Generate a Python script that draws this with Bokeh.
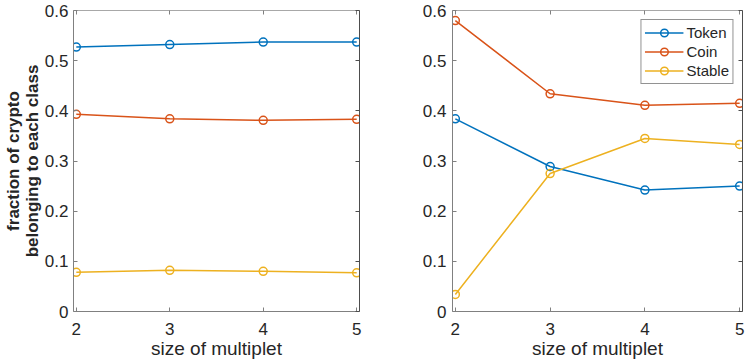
from bokeh.plotting import figure
from bokeh.layouts import row
from bokeh.models import Range1d, FixedTicker, LinearAxis, CustomJSTickFormatter, Legend
from bokeh.embed import file_html
from bokeh.resources import INLINE

# ---- data ----
multiplet = [2, 3, 4, 5]
x_ticks = [2, 3, 4, 5]
y_ticks = [0, 0.1, 0.2, 0.3, 0.4, 0.5, 0.6]

left_token = [0.527, 0.532, 0.537, 0.537]
left_coin = [0.393, 0.384, 0.381, 0.383]
left_stable = [0.078, 0.082, 0.080, 0.077]

right_token = [0.384, 0.289, 0.242, 0.250]
right_coin = [0.580, 0.434, 0.411, 0.415]
right_stable = [0.034, 0.275, 0.345, 0.333]

series_names = ["Token", "Coin", "Stable"]
colors = ["#0072BD", "#D95319", "#EDB120"]

FONT = "Liberation Sans"
TXT = "#262626"


def style_axes(p):
    p.xaxis.ticker = FixedTicker(ticks=x_ticks)
    p.yaxis.ticker = FixedTicker(ticks=y_ticks)
    p.yaxis.formatter = CustomJSTickFormatter(code="return tick.toString();")
    p.xaxis.formatter = CustomJSTickFormatter(code="return tick.toString();")
    for ax in (p.xaxis[0], p.yaxis[0]):
        ax.major_tick_in = 4
        ax.major_tick_out = 0
        ax.minor_tick_in = 0
        ax.minor_tick_out = 0
        ax.axis_line_color = "#808080"
        ax.major_tick_line_color = "#808080"
        ax.major_label_text_font = FONT
        ax.major_label_text_font_size = "17px"
        ax.major_label_text_color = TXT
        ax.axis_label_text_font = FONT
        ax.axis_label_text_color = TXT
    p.xaxis.major_label_standoff = 11
    p.yaxis.major_label_standoff = 5
    p.xaxis.axis_label = "size of multiplet"
    p.xaxis.axis_label_text_font_size = "19px"
    p.xaxis.axis_label_text_font_style = "normal"
    p.xaxis.axis_label_standoff = 0
    # box: top and right axes with inward ticks, no labels
    blank = CustomJSTickFormatter(code="return '';")
    top = LinearAxis(ticker=FixedTicker(ticks=x_ticks), formatter=blank,
                     major_label_standoff=0, major_tick_in=4, major_tick_out=0,
                     minor_tick_in=0, minor_tick_out=0,
                     axis_line_color="#a8a8a8", major_tick_line_color="#808080")
    right = LinearAxis(ticker=FixedTicker(ticks=y_ticks), formatter=blank,
                       major_label_standoff=0, major_tick_in=4, major_tick_out=0,
                       minor_tick_in=0, minor_tick_out=0,
                       axis_line_color="#4d4d4d", major_tick_line_color="#4d4d4d")
    p.add_layout(top, "above")
    p.add_layout(right, "right")
    p.xgrid.visible = False
    p.ygrid.visible = False
    p.outline_line_color = None


def make_fig(width, border_left, border_right, tokens, coins, stables, legend=False):
    p = figure(width=width, height=361, output_backend="svg", toolbar_location=None,
               x_range=Range1d(1.97, 5.03), y_range=Range1d(0, 0.6),
               min_border_left=border_left, min_border_right=border_right,
               min_border_top=10, min_border_bottom=0)
    style_axes(p)
    items = []
    for name, vals, c in zip(series_names, (tokens, coins, stables), colors):
        r1 = p.line(multiplet, vals, line_color=c, line_width=1.5)
        r2 = p.scatter(multiplet, vals, marker="circle", size=8, line_color=c,
                       line_width=1.5, fill_color=None)
        items.append((name, [r1, r2]))
    if legend:
        lg = Legend(items=items, location="top_right")
        lg.margin = 9
        lg.padding = 3
        lg.spacing = 0
        lg.glyph_width = 39
        lg.glyph_height = 19
        lg.label_height = 19
        lg.label_standoff = 3
        lg.label_text_font = FONT
        lg.label_text_font_size = "15px"
        lg.label_text_color = TXT
        lg.border_line_color = "#262626"
        lg.border_line_width = 1
        lg.background_fill_color = "white"
        lg.background_fill_alpha = 1
        p.add_layout(lg, "center")
    return p


p1 = make_fig(372, 69, 13, left_token, left_coin, left_stable)
p1.yaxis[0].axis_label = "fraction of crypto\nbelonging to each class"
p1.yaxis[0].axis_label_text_font_size = "17px"
p1.yaxis[0].axis_label_text_font_style = "bold"
p1.yaxis[0].axis_label_text_line_height = 1.0
p1.yaxis[0].axis_label_standoff = 0

p2 = make_fig(375, 80, 5, right_token, right_coin, right_stable, legend=True)
p2.yaxis[0].major_label_standoff = 6

layout = row(p1, p2, spacing=0)
open("out.html", "w").write(file_html(layout, INLINE))
